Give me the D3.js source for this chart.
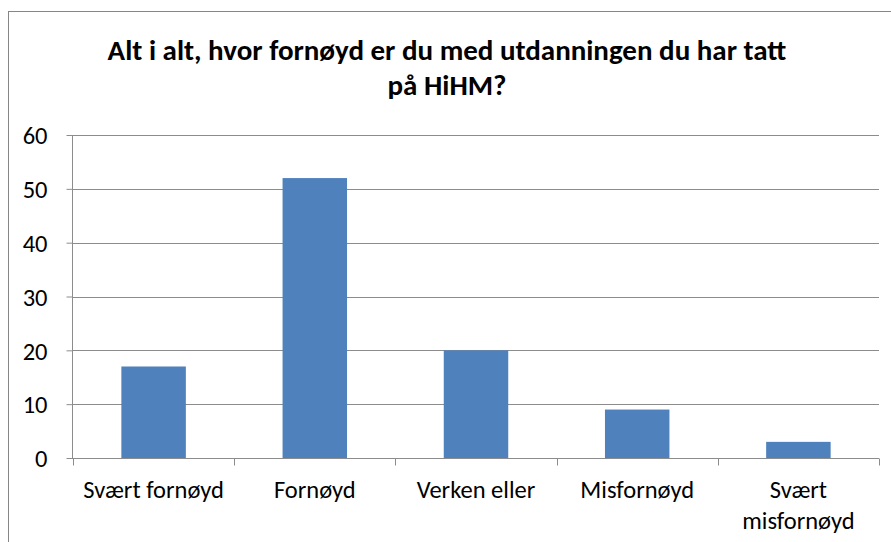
<!DOCTYPE html>
<html>
<head>
<meta charset="utf-8">
<script src="https://cdn.jsdelivr.net/npm/d3@7"></script>
<style>
  body { margin: 0; background: #fff; }
  svg { display: block; font-family: Carlito, Calibri, Lato, sans-serif; }
</style>
</head>
<body>
<svg id="chart" width="891" height="542"></svg>
<script>
// ── Data ──────────────────────────────────────────────────────────────────────
const categories = ['Svært fornøyd', 'Fornøyd', 'Verken eller', 'Misfornøyd', 'Svært misfornøyd'];
const values     = [17, 52, 20, 9, 3];
const yTicks     = [0, 10, 20, 30, 40, 50, 60];
const titleLines = ['Alt i alt, hvor fornøyd er du med utdanningen du har tatt', 'på HiHM?'];

// ── Layout ────────────────────────────────────────────────────────────────────
const W = 891, H = 542;
const M = { left: 73, right: 879, top: 135, bottom: 458 };
const BLUE = '#4f81bd', GRID = '#8c8c8c';
const FS = 24.5;

const svg = d3.select('#chart');

// outer frame
svg.append('rect')
  .attr('x', 8.5).attr('y', 11.5)
  .attr('width', W).attr('height', H)
  .attr('fill', '#fff').attr('stroke', '#868686');

const x = d3.scaleBand().domain(categories).range([M.left, M.right]).padding(0);
const y = d3.scaleLinear().domain([0, 60]).range([M.bottom, M.top]);

// title
svg.append('text')
  .attr('text-anchor', 'middle')
  .attr('font-size', 29).attr('font-weight', 'bold')
  .selectAll('tspan').data(titleLines).join('tspan')
  .attr('x', 447).attr('y', (d, i) => 60 + i * 35)
  .text(d => d);

// gridlines
svg.append('g')
  .selectAll('line').data(yTicks.filter(t => t > 0)).join('line')
  .attr('x1', M.left).attr('x2', M.right)
  .attr('y1', d => Math.round(y(d)) + 0.5).attr('y2', d => Math.round(y(d)) + 0.5)
  .attr('stroke', GRID);

// bars
svg.append('g')
  .selectAll('rect').data(values).join('rect')
  .attr('x', (d, i) => x(categories[i]) + x.bandwidth() * 0.3)
  .attr('width', x.bandwidth() * 0.4)
  .attr('y', d => y(d))
  .attr('height', d => y(0) - y(d))
  .attr('fill', BLUE);

// y axis
const yAxis = svg.append('g')
  .attr('transform', `translate(${M.left - 0.5},0)`)
  .call(d3.axisLeft(y).tickValues(yTicks).tickSize(6).tickPadding(19).tickFormat(d3.format('d')));
yAxis.attr('font-family', null).attr('font-size', FS);
yAxis.selectAll('line, path').attr('stroke', GRID);
yAxis.select('.domain').attr('d', `M0,${M.top}V${M.bottom}`);
yAxis.selectAll('text').attr('fill', '#000').attr('dy', '0.36em');

// x axis
const xAxis = svg.append('g')
  .attr('transform', `translate(0,${Math.round(y(0)) + 0.5})`);
xAxis.append('line')
  .attr('x1', M.left - 6).attr('x2', M.right)
  .attr('stroke', GRID);
xAxis.selectAll('line.tick').data(d3.range(categories.length + 1)).join('line')
  .attr('class', 'tick')
  .attr('x1', i => Math.round(M.left + i * x.step()) + 0.5)
  .attr('x2', i => Math.round(M.left + i * x.step()) + 0.5)
  .attr('y1', 0).attr('y2', 7)
  .attr('stroke', GRID);

// category labels (wrap the last one like the original)
const labelLines = c => c === 'Svært misfornøyd' ? ['Svært', 'misfornøyd'] : [c];
xAxis.selectAll('text.cat').data(categories).join('text')
  .attr('class', 'cat')
  .attr('text-anchor', 'middle')
  .attr('font-size', FS)
  .each(function(c) {
    d3.select(this).selectAll('tspan').data(labelLines(c)).join('tspan')
      .attr('x', x(c) + x.bandwidth() / 2)
      .attr('y', (d, i) => 39 + i * 31)
      .text(d => d);
  });
</script>
</body>
</html>
